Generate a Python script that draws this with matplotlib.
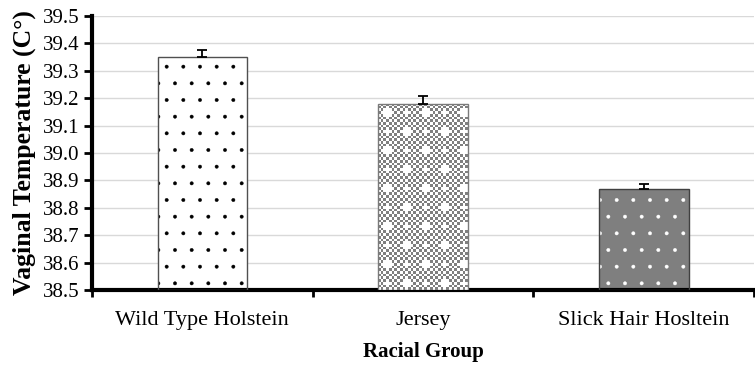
import numpy as np
import matplotlib
matplotlib.use("Agg")
import matplotlib.pyplot as plt
from matplotlib.colors import ListedColormap

# Mean vaginal temperature by racial group, with standard error (upper only)
groups = ["Wild Type Holstein", "Jersey", "Slick Hair Hosltein"]
temps = [39.35, 39.18, 38.87]
sem = [0.025, 0.028, 0.018]
y_ticks = [38.5, 38.6, 38.7, 38.8, 38.9, 39.0, 39.1, 39.2, 39.3, 39.4, 39.5]

serif = ["Liberation Serif", "DejaVu Serif"]
plt.rcParams["font.family"] = serif
plt.rcParams["hatch.linewidth"] = 0.3

fig = plt.figure(figsize=(7.55, 3.69), dpi=100)
ax = fig.add_axes([92 / 755, 1 - 290 / 369, 1 - 92 / 755 - 0.001, (290 - 16) / 369])

x = np.arange(len(groups))
width = 0.405

ax.set_ylim(y_ticks[0], y_ticks[-1])
ax.set_xlim(-0.5, len(groups) - 0.5)

# Bar 1: white with black dots
ax.bar(x[0], temps[0] - y_ticks[0], width, bottom=y_ticks[0], color="white",
       edgecolor="black", hatch=".", linewidth=0, zorder=2)
# Bar 3: gray with white dots
ax.bar(x[2], temps[2] - y_ticks[0], width, bottom=y_ticks[0], color="#7f7f7f",
       edgecolor="white", hatch=".", linewidth=0, zorder=2)
# Bar 2: white base, checkerboard laid over it
jersey = ax.bar(x[1], temps[1] - y_ticks[0], width, bottom=y_ticks[0],
                color="white", linewidth=0, zorder=2)[0]

# outlines
edge_cols = ["#505050", "#7a7a7a", "#404040"]
ax.bar(x, np.array(temps) - y_ticks[0], width, bottom=y_ticks[0], fill=False,
       edgecolor=edge_cols, linewidth=1.0, zorder=4)

# checkerboard texture sized to screen pixels
fig.canvas.draw()
x0, y0 = jersey.get_x(), jersey.get_y()
x1, y1 = x0 + jersey.get_width(), y0 + jersey.get_height()
(px0, py0), (px1, py1) = ax.transData.transform([(x0, y0), (x1, y1)])
cell = 2.7
nx = int(round((px1 - px0) / cell))
ny = int(round((py1 - py0) / cell))
ii, jj = np.indices((ny, nx))
board = ((ii + jj) % 2).astype(float)
# occasional white crosses in the weave
cross = ((ii % 7 == 3) & (jj % 7 == 3))
board[cross] = 0
board[(np.roll(cross, 1, 0)) | (np.roll(cross, -1, 0)) |
      (np.roll(cross, 1, 1)) | (np.roll(cross, -1, 1))] = 0
cmap = ListedColormap(["white", "#7f7f7f"])
img = ax.imshow(board, cmap=cmap, extent=(x0, x1, y0, y1), aspect="auto",
                interpolation="nearest", zorder=3, vmin=0, vmax=1)
img.set_clip_path(jersey)

# error bars (plus direction only)
ax.errorbar(x, temps, yerr=[np.zeros(len(sem)), sem], fmt="none",
            ecolor="black", elinewidth=1.3, capsize=3.5, capthick=1.3, zorder=5)

# axes styling
ax.set_yticks(y_ticks)
ax.set_yticklabels([f"{v:.1f}" for v in y_ticks])
ax.yaxis.grid(True, color="#d9d9d9", linewidth=1.0, zorder=0)
ax.set_axisbelow(True)

ax.set_xticks(x)
ax.set_xticklabels(groups)
ax.set_xticks(np.arange(-0.5, len(groups)), minor=True)
ax.tick_params(axis="x", which="major", length=0, pad=15, labelsize=16)
ax.tick_params(axis="x", which="minor", length=5, width=2, direction="out", color="black")
ax.tick_params(axis="y", length=6, width=2, direction="out", pad=3, labelsize=15)

for side in ("top", "right"):
    ax.spines[side].set_visible(False)
for side in ("left", "bottom"):
    ax.spines[side].set_linewidth(3)
    ax.spines[side].set_color("black")

ax.set_ylabel("Vaginal Temperature (C°)", fontsize=18.5, fontweight="bold", labelpad=5)
ax.set_xlabel("Racial Group", fontsize=15, fontweight="bold", labelpad=9)

fig.savefig("out.png", dpi=100)
